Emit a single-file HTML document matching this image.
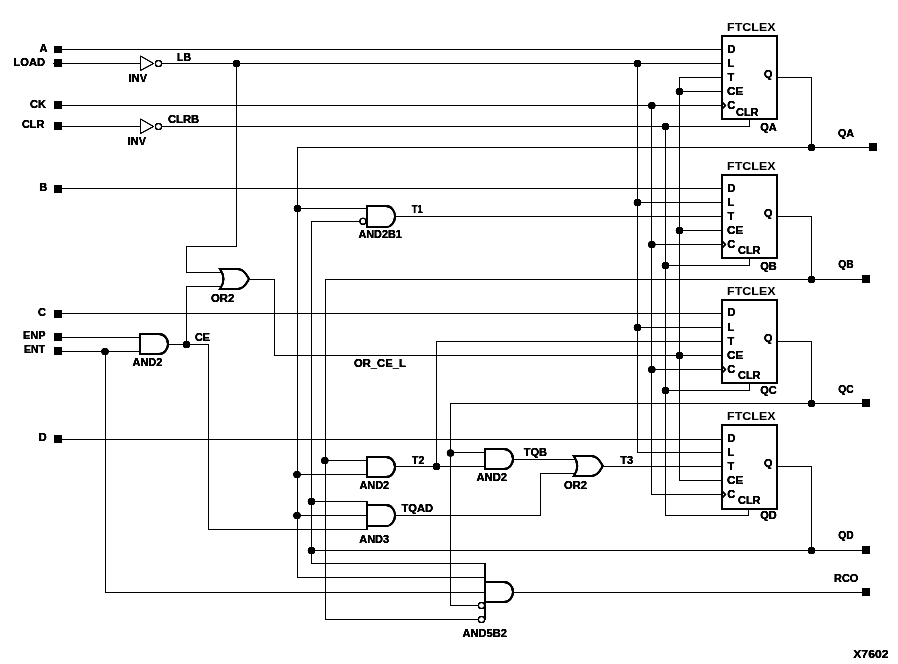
<!DOCTYPE html>
<html><head><meta charset="utf-8"><title>X7602</title>
<style>
html,body{margin:0;padding:0;background:#fff;}
svg{display:block;}
text{font-family:"Liberation Sans",sans-serif;font-weight:bold;font-size:11px;fill:#000;}
text.ft{font-weight:bold;stroke:#fff;stroke-width:0.4px;}
rect{shape-rendering:crispEdges;}
</style></head><body>
<svg width="898" height="664" viewBox="0 0 898 664">
<defs><filter id="th" x="0" y="0" width="898" height="664" filterUnits="userSpaceOnUse" color-interpolation-filters="sRGB"><feComponentTransfer><feFuncR type="table" tableValues="0 0 0 0.45 1"/><feFuncG type="table" tableValues="0 0 0 0.45 1"/><feFuncB type="table" tableValues="0 0 0 0.45 1"/></feComponentTransfer></filter></defs>
<rect x="0" y="0" width="898" height="664" fill="#fff"/>
<g filter="url(#th)">
<rect x="0" y="0" width="898" height="664" fill="#fff"/>
<g fill="#000">
<rect x="54" y="46" width="8" height="7"/>
<rect x="62" y="49" width="660" height="1"/>
<rect x="54" y="59" width="8" height="8"/>
<rect x="53" y="63" width="88" height="1"/>
<rect x="54" y="101" width="8" height="8"/>
<rect x="62" y="105" width="660" height="1"/>
<rect x="54" y="122" width="8" height="8"/>
<rect x="62" y="126" width="79" height="1"/>
<rect x="54" y="185" width="8" height="8"/>
<rect x="62" y="188" width="660" height="1"/>
<rect x="54" y="310" width="8" height="8"/>
<rect x="62" y="313" width="660" height="1"/>
<rect x="54" y="333" width="8" height="8"/>
<rect x="62" y="337" width="79" height="1"/>
<rect x="54" y="347" width="8" height="8"/>
<rect x="62" y="351" width="79" height="1"/>
<rect x="54" y="435" width="8" height="8"/>
<rect x="62" y="439" width="660" height="1"/>
<path d="M140.5,56V70.5L153.5,63.5Z" fill="#fff" stroke="#000" stroke-width="0.85"/>
<circle cx="158.5" cy="63.5" r="3.05" fill="#fff" stroke="#000" stroke-width="1.05"/>
<path d="M140.5,119V133.5L153.5,126.5Z" fill="#fff" stroke="#000" stroke-width="0.85"/>
<circle cx="158.5" cy="126.5" r="3.05" fill="#fff" stroke="#000" stroke-width="1.05"/>
<rect x="162" y="63" width="560" height="1"/>
<rect x="162" y="126" width="588" height="1"/>
<rect x="749" y="120" width="1" height="7"/>
<circle cx="236.5" cy="63.5" r="3.6"/>
<rect x="236" y="63" width="1" height="184"/>
<rect x="186" y="246" width="51" height="1"/>
<rect x="186" y="246" width="1" height="27"/>
<rect x="186" y="272" width="36" height="1"/>
<path d="M140,334H159C164,334 168,338.5 168,344.0C168,349.5 164,354 159,354H140Z" fill="#fff" stroke="#000" stroke-width="1.9"/>
<rect x="169" y="344" width="40" height="1"/>
<circle cx="186.5" cy="344.5" r="3.6"/>
<rect x="186" y="286" width="1" height="59"/>
<rect x="186" y="286" width="36" height="1"/>
<rect x="208" y="344" width="1" height="186"/>
<rect x="208" y="529" width="159" height="1"/>
<circle cx="105" cy="351.5" r="3.6"/>
<rect x="105" y="351" width="1" height="242"/>
<rect x="105" y="592" width="380" height="1"/>
<path d="M220,269H238C244,269.5 246,274 249,279.0C246,284 244,288.5 238,289H220Q227,279.0 220,269Z" fill="#fff" stroke="#000" stroke-width="1.8" stroke-linejoin="miter" stroke-miterlimit="10"/>
<rect x="250" y="279" width="25" height="1"/>
<rect x="274" y="279" width="1" height="77"/>
<rect x="274" y="355" width="448" height="1"/>
<rect x="297" y="147" width="573" height="1"/>
<rect x="869" y="143" width="8" height="8"/>
<rect x="297" y="147" width="1" height="431"/>
<circle cx="297.5" cy="208.5" r="3.6"/>
<rect x="297" y="208" width="70" height="1"/>
<circle cx="297" cy="474.5" r="3.6"/>
<rect x="297" y="474" width="70" height="1"/>
<circle cx="297" cy="515.5" r="3.6"/>
<rect x="297" y="515" width="70" height="1"/>
<rect x="297" y="577" width="188" height="1"/>
<rect x="311" y="221" width="1" height="343"/>
<rect x="311" y="221" width="50" height="1"/>
<circle cx="311.5" cy="501.5" r="3.6"/>
<rect x="311" y="501" width="57" height="1"/>
<circle cx="311.5" cy="550.5" r="3.6"/>
<rect x="311" y="550" width="552" height="1"/>
<rect x="862" y="546" width="8" height="8"/>
<rect x="311" y="563" width="175" height="1"/>
<rect x="325" y="279" width="1" height="341"/>
<rect x="325" y="279" width="538" height="1"/>
<rect x="862" y="275" width="8" height="8"/>
<circle cx="324.8" cy="460.5" r="3.6"/>
<rect x="325" y="460" width="42" height="1"/>
<rect x="325" y="619" width="154" height="1"/>
<rect x="450" y="403" width="1" height="203"/>
<rect x="450" y="403" width="413" height="1"/>
<rect x="862" y="399" width="8" height="8"/>
<circle cx="450.5" cy="453" r="3.6"/>
<rect x="450" y="452" width="35" height="1"/>
<rect x="450" y="605" width="29" height="1"/>
<path d="M367,206H386C391,206 395,210.5 395,216.5C395,222.5 391,227 386,227H367Z" fill="#fff" stroke="#000" stroke-width="1.9"/>
<circle cx="363" cy="221.25" r="3.05" fill="#fff" stroke="#000" stroke-width="1.05"/>
<rect x="396" y="216" width="326" height="1"/>
<path d="M367,457H386C391,457 395,461.5 395,467.0C395,472.5 391,477 386,477H367Z" fill="#fff" stroke="#000" stroke-width="1.9"/>
<rect x="396" y="466" width="89" height="1"/>
<circle cx="436.5" cy="466.5" r="3.6"/>
<rect x="436" y="341" width="1" height="126"/>
<rect x="436" y="341" width="286" height="1"/>
<rect x="366" y="501" width="2" height="29"/>
<path d="M367,505H386C391,505 395,509.5 395,515.5C395,521.5 391,526 386,526H367Z" fill="#fff" stroke="#000" stroke-width="1.9"/>
<rect x="396" y="515" width="145" height="1"/>
<rect x="540" y="473" width="1" height="43"/>
<rect x="540" y="473" width="36" height="1"/>
<path d="M485,449H504C509,449 513,453.5 513,459.0C513,464.5 509,469 504,469H485Z" fill="#fff" stroke="#000" stroke-width="1.9"/>
<rect x="514" y="459" width="62" height="1"/>
<path d="M573.8,456H591.8C597.8,456.5 599.8,461 602.8,466.0C599.8,471 597.8,475.5 591.8,476H573.8Q580.8,466.0 573.8,456Z" fill="#fff" stroke="#000" stroke-width="1.8" stroke-linejoin="miter" stroke-miterlimit="10"/>
<rect x="604" y="466" width="118" height="1"/>
<rect x="484" y="563" width="2" height="57"/>
<path d="M485,582H504C509,582 513,586.5 513,592.0C513,597.5 509,602 504,602H485Z" fill="#fff" stroke="#000" stroke-width="1.9"/>
<circle cx="481.5" cy="605.5" r="3.05" fill="#fff" stroke="#000" stroke-width="1.05"/>
<circle cx="481.5" cy="619.5" r="3.05" fill="#fff" stroke="#000" stroke-width="1.05"/>
<rect x="514" y="592" width="349" height="1"/>
<rect x="862" y="588" width="8" height="8"/>
<rect x="637" y="63" width="1" height="390"/>
<rect x="637" y="452" width="85" height="1"/>
<circle cx="637.5" cy="63.5" r="3.6"/>
<circle cx="637.5" cy="202.5" r="3.6"/>
<circle cx="637.5" cy="327.5" r="3.6"/>
<rect x="651" y="105" width="1" height="390"/>
<rect x="651" y="494" width="71" height="1"/>
<circle cx="651.8" cy="105.5" r="3.6"/>
<circle cx="651.8" cy="244.5" r="3.6"/>
<circle cx="651.8" cy="369.5" r="3.6"/>
<rect x="665" y="126" width="1" height="390"/>
<rect x="665" y="515" width="84" height="1"/>
<rect x="748" y="510" width="1" height="6"/>
<circle cx="665.5" cy="126.5" r="3.6"/>
<circle cx="665.5" cy="265.5" r="3.6"/>
<circle cx="665.5" cy="390.5" r="3.6"/>
<rect x="679" y="77" width="1" height="404"/>
<rect x="679" y="480" width="43" height="1"/>
<rect x="679" y="77" width="43" height="1"/>
<circle cx="679.5" cy="91.5" r="3.6"/>
<circle cx="679.5" cy="230.5" r="3.6"/>
<circle cx="679.5" cy="355.5" r="3.6"/>
<rect x="722" y="36" width="55" height="83" fill="#fff" stroke="#000" stroke-width="2"/>
<rect x="637" y="63" width="85" height="1"/>
<rect x="679" y="91" width="43" height="1"/>
<rect x="651" y="105" width="71" height="1"/>
<path d="M722.5,102.5L725.5,105.5L722.5,108.5" fill="none" stroke="#000" stroke-width="1.15"/>
<rect x="778" y="77" width="34" height="1"/>
<rect x="811" y="77" width="1" height="71"/>
<circle cx="811.5" cy="147.5" r="3.6"/>
<rect x="722" y="175" width="55" height="83" fill="#fff" stroke="#000" stroke-width="2"/>
<rect x="637" y="202" width="85" height="1"/>
<rect x="679" y="230" width="43" height="1"/>
<rect x="651" y="244" width="71" height="1"/>
<path d="M722.5,241.5L725.5,244.5L722.5,247.5" fill="none" stroke="#000" stroke-width="1.15"/>
<rect x="665" y="265" width="85" height="1"/>
<rect x="749" y="259" width="1" height="7"/>
<rect x="778" y="216" width="34" height="1"/>
<rect x="811" y="216" width="1" height="64"/>
<circle cx="811.5" cy="279.5" r="3.6"/>
<rect x="722" y="300" width="55" height="83" fill="#fff" stroke="#000" stroke-width="2"/>
<rect x="637" y="327" width="85" height="1"/>
<rect x="679" y="355" width="43" height="1"/>
<rect x="651" y="369" width="71" height="1"/>
<path d="M722.5,366.5L725.5,369.5L722.5,372.5" fill="none" stroke="#000" stroke-width="1.15"/>
<rect x="665" y="390" width="85" height="1"/>
<rect x="749" y="384" width="1" height="7"/>
<rect x="778" y="341" width="34" height="1"/>
<rect x="811" y="341" width="1" height="63"/>
<circle cx="811.5" cy="403.5" r="3.6"/>
<rect x="722" y="425" width="55" height="84" fill="#fff" stroke="#000" stroke-width="2"/>
<path d="M722.5,491.5L725.5,494.5L722.5,497.5" fill="none" stroke="#000" stroke-width="1.15"/>
<rect x="778" y="466" width="34" height="1"/>
<rect x="811" y="466" width="1" height="85"/>
<circle cx="811.5" cy="550.5" r="3.6"/>
</g>
<g fill="#000">
<text x="39.6" y="52">A</text>
<text x="13.5" y="66" textLength="31.5" lengthAdjust="spacingAndGlyphs">LOAD</text>
<text x="30" y="108" textLength="16" lengthAdjust="spacingAndGlyphs">CK</text>
<text x="22" y="128" textLength="22.3" lengthAdjust="spacingAndGlyphs">CLR</text>
<text x="39.3" y="191">B</text>
<text x="38" y="316">C</text>
<text x="23" y="339" textLength="22.5" lengthAdjust="spacingAndGlyphs">ENP</text>
<text x="24" y="353" textLength="21" lengthAdjust="spacingAndGlyphs">ENT</text>
<text x="38.8" y="441">D</text>
<text x="128.75" y="82" textLength="18.2" lengthAdjust="spacingAndGlyphs">INV</text>
<text x="177" y="61" textLength="14" lengthAdjust="spacingAndGlyphs">LB</text>
<text x="127.75" y="145" textLength="18.2" lengthAdjust="spacingAndGlyphs">INV</text>
<text x="168" y="123" textLength="31.2" lengthAdjust="spacingAndGlyphs">CLRB</text>
<text x="132.5" y="366" textLength="29.8" lengthAdjust="spacingAndGlyphs">AND2</text>
<text x="195" y="341" textLength="15" lengthAdjust="spacingAndGlyphs">CE</text>
<text x="211" y="302" textLength="23.3" lengthAdjust="spacingAndGlyphs">OR2</text>
<text x="354" y="367" textLength="51.8" lengthAdjust="spacingAndGlyphs">OR_CE_L</text>
<text x="358.5" y="238" textLength="43.2" lengthAdjust="spacingAndGlyphs">AND2B1</text>
<text x="411.75" y="213" textLength="10.8" lengthAdjust="spacingAndGlyphs">T1</text>
<text x="359.5" y="489" textLength="29.6" lengthAdjust="spacingAndGlyphs">AND2</text>
<text x="412" y="464" textLength="12.2" lengthAdjust="spacingAndGlyphs">T2</text>
<text x="359.25" y="543" textLength="29.8" lengthAdjust="spacingAndGlyphs">AND3</text>
<text x="401.5" y="512" textLength="31.5" lengthAdjust="spacingAndGlyphs">TQAD</text>
<text x="476.5" y="481" textLength="30.5" lengthAdjust="spacingAndGlyphs">AND2</text>
<text x="523.75" y="456" textLength="23.3" lengthAdjust="spacingAndGlyphs">TQB</text>
<text x="564" y="489" textLength="23" lengthAdjust="spacingAndGlyphs">OR2</text>
<text x="620.3" y="464">T3</text>
<text x="462.5" y="637" textLength="44.5" lengthAdjust="spacingAndGlyphs">AND5B2</text>
<text x="727.1" y="31" textLength="48.4" lengthAdjust="spacingAndGlyphs" font-size="13.3" class="ft">FTCLEX</text>
<text x="727.5" y="53">D</text>
<text x="727.5" y="67">L</text>
<text x="727.5" y="81">T</text>
<text x="727" y="95" textLength="16.2" lengthAdjust="spacingAndGlyphs">CE</text>
<text x="727.3" y="109">C</text>
<text x="736" y="116" textLength="22.5" lengthAdjust="spacingAndGlyphs">CLR</text>
<text x="764" y="78" textLength="8.4" lengthAdjust="spacingAndGlyphs">Q</text>
<text x="760.25" y="131" textLength="16.5" lengthAdjust="spacingAndGlyphs">QA</text>
<text x="727.1" y="170" textLength="48.4" lengthAdjust="spacingAndGlyphs" font-size="13.3" class="ft">FTCLEX</text>
<text x="727.5" y="192">D</text>
<text x="727.5" y="206">L</text>
<text x="727.5" y="220">T</text>
<text x="727" y="234" textLength="16.2" lengthAdjust="spacingAndGlyphs">CE</text>
<text x="727.3" y="248">C</text>
<text x="738" y="254" textLength="22.5" lengthAdjust="spacingAndGlyphs">CLR</text>
<text x="764" y="217" textLength="8.4" lengthAdjust="spacingAndGlyphs">Q</text>
<text x="760.25" y="270" textLength="16.5" lengthAdjust="spacingAndGlyphs">QB</text>
<text x="727.1" y="295" textLength="48.4" lengthAdjust="spacingAndGlyphs" font-size="13.3" class="ft">FTCLEX</text>
<text x="727.5" y="316">D</text>
<text x="727.5" y="331">L</text>
<text x="727.5" y="345">T</text>
<text x="727" y="359" textLength="16.2" lengthAdjust="spacingAndGlyphs">CE</text>
<text x="727.3" y="373">C</text>
<text x="738" y="379" textLength="22.5" lengthAdjust="spacingAndGlyphs">CLR</text>
<text x="764" y="342" textLength="8.4" lengthAdjust="spacingAndGlyphs">Q</text>
<text x="760.25" y="394" textLength="16.5" lengthAdjust="spacingAndGlyphs">QC</text>
<text x="727.1" y="420" textLength="48.4" lengthAdjust="spacingAndGlyphs" font-size="13.3" class="ft">FTCLEX</text>
<text x="727.5" y="442">D</text>
<text x="727.5" y="456">L</text>
<text x="727.5" y="470">T</text>
<text x="727" y="484" textLength="16.2" lengthAdjust="spacingAndGlyphs">CE</text>
<text x="727.3" y="498">C</text>
<text x="738" y="504" textLength="22.5" lengthAdjust="spacingAndGlyphs">CLR</text>
<text x="764" y="467" textLength="8.4" lengthAdjust="spacingAndGlyphs">Q</text>
<text x="760.25" y="519" textLength="16.5" lengthAdjust="spacingAndGlyphs">QD</text>
<text x="838" y="137" textLength="16" lengthAdjust="spacingAndGlyphs">QA</text>
<text x="838.25" y="268" textLength="15.3" lengthAdjust="spacingAndGlyphs">QB</text>
<text x="838.25" y="393" textLength="15.3" lengthAdjust="spacingAndGlyphs">QC</text>
<text x="838.25" y="539" textLength="15.3" lengthAdjust="spacingAndGlyphs">QD</text>
<text x="834" y="582" textLength="24.3" lengthAdjust="spacingAndGlyphs">RCO</text>
<text x="853.25" y="657.5" textLength="35.2" lengthAdjust="spacingAndGlyphs">X7602</text>
</g>
</g>
</svg>
</body></html>
